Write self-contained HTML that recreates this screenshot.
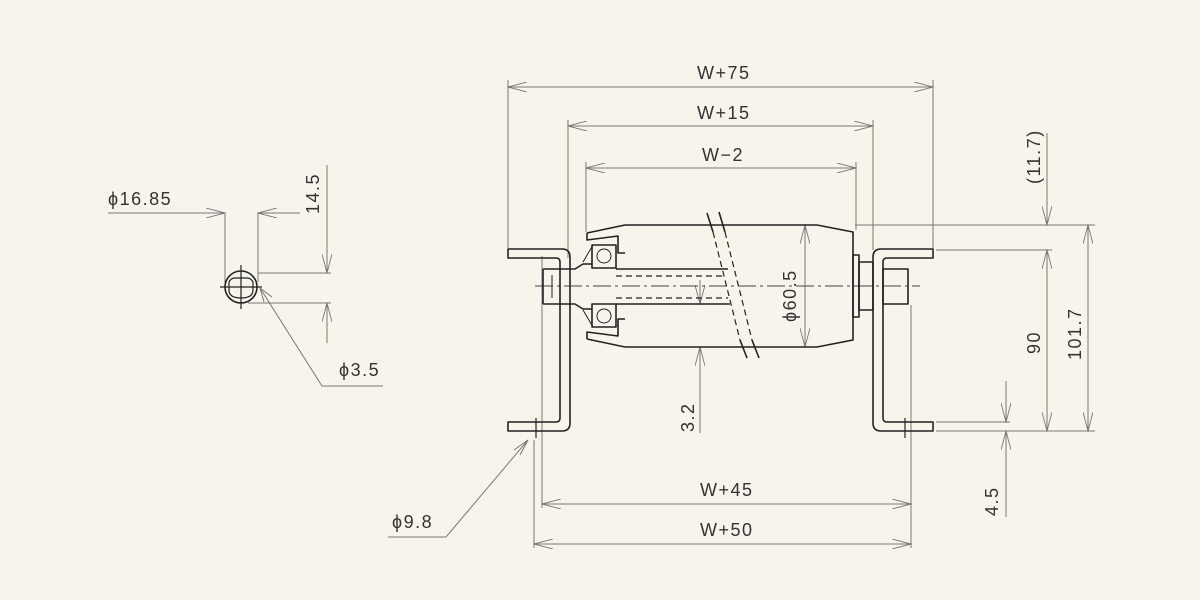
<!DOCTYPE html>
<html><head><meta charset="utf-8"><style>
html,body{margin:0;padding:0;background:#f7f4eb;}
svg{display:block}
text{font-family:"Liberation Sans",sans-serif;font-size:18px;fill:#333;letter-spacing:1.5px;}
</style></head><body>
<svg width="1200" height="600" viewBox="0 0 1200 600" xmlns="http://www.w3.org/2000/svg">
<rect width="1200" height="600" fill="#f7f4eb"/>
<defs>
<marker id="a" markerWidth="20" markerHeight="10" refX="19" refY="5" orient="auto-start-reverse" markerUnits="userSpaceOnUse">
<path d="M0,0 L19,5 L0,10" fill="none" stroke="#777" stroke-width="0.9"/>
</marker>
</defs>
<g stroke="#777" stroke-width="1" fill="none">
<line x1="508" y1="87" x2="933" y2="87" marker-start="url(#a)" marker-end="url(#a)"/>
<line x1="568" y1="126" x2="873" y2="126" marker-start="url(#a)" marker-end="url(#a)"/>
<line x1="586" y1="168" x2="856" y2="168" marker-start="url(#a)" marker-end="url(#a)"/>
<line x1="508" y1="80" x2="508" y2="248"/>
<line x1="933" y1="80" x2="933" y2="248"/>
<line x1="568" y1="120" x2="568" y2="258"/>
<line x1="873" y1="120" x2="873" y2="250"/>
<line x1="586" y1="162" x2="586" y2="232"/>
<line x1="856" y1="162" x2="856" y2="230"/>
<line x1="855" y1="225" x2="1095" y2="225"/>
<line x1="936" y1="250" x2="1052" y2="250"/>
<line x1="936" y1="431" x2="1095" y2="431"/>
<line x1="936" y1="422" x2="1010" y2="422"/>
<line x1="1047" y1="133" x2="1047" y2="225" marker-end="url(#a)"/>
<line x1="1047" y1="250" x2="1047" y2="431" marker-start="url(#a)" marker-end="url(#a)"/>
<line x1="1088" y1="225" x2="1088" y2="431" marker-start="url(#a)" marker-end="url(#a)"/>
<line x1="1006" y1="381" x2="1006" y2="422" marker-end="url(#a)"/>
<line x1="1006" y1="431" x2="1006" y2="517" marker-start="url(#a)"/>
<line x1="542" y1="504" x2="911" y2="504" marker-start="url(#a)" marker-end="url(#a)"/>
<line x1="534" y1="544" x2="911" y2="544" marker-start="url(#a)" marker-end="url(#a)"/>
<line x1="534" y1="440" x2="534" y2="548"/>
<line x1="542" y1="256" x2="542" y2="508"/>
<line x1="911" y1="305" x2="911" y2="548"/>
<polyline points="528,440 446,537 388,537"/>
<line x1="528" y1="440" x2="520" y2="455" /><line x1="528" y1="440" x2="514" y2="450"/>
<line x1="700" y1="280" x2="700" y2="304" marker-end="url(#a)"/>
<line x1="700" y1="347" x2="700" y2="433" marker-start="url(#a)"/>
<line x1="805" y1="225" x2="805" y2="347" marker-start="url(#a)" marker-end="url(#a)"/>
<line x1="108" y1="213" x2="225" y2="213" marker-end="url(#a)"/>
<line x1="258" y1="213" x2="300" y2="213" marker-start="url(#a)"/>
<line x1="225" y1="213" x2="225" y2="290"/>
<line x1="258" y1="213" x2="258" y2="282"/>
<line x1="327" y1="165" x2="327" y2="273" marker-end="url(#a)"/>
<line x1="327" y1="303" x2="327" y2="343" marker-start="url(#a)"/>
<line x1="258" y1="273" x2="331" y2="273"/>
<line x1="248" y1="303" x2="331" y2="303"/>
<polyline points="260,288 322,386 383,386"/>
<line x1="260" y1="288" x2="264" y2="302"/><line x1="260" y1="288" x2="272" y2="297"/>
</g>
<g stroke="#444" stroke-width="1" fill="none" stroke-dasharray="18,4,3,4">
<line x1="535" y1="286" x2="920" y2="286"/>
</g>
<g stroke="#222" stroke-width="1.6" fill="none" stroke-linejoin="round">
<path d="M508,249 H562 Q570,249 570,257 V423 Q570,431 562,431 H508 V422 H556 Q560,422 560,418 V262 Q560,258 556,258 H508 Z"/>
<path d="M933,249 H881 Q873,249 873,257 V423 Q873,431 881,431 H933 V422 H887 Q883,422 883,418 V262 Q883,258 887,258 H933 Z"/>
<path d="M625,225 H817 L853,232 V340 L817,347 H625"/>
<line x1="625" y1="225" x2="587" y2="233"/>
<line x1="625" y1="347" x2="587" y2="339"/>
<path d="M587,233 V240 L618,236 V253 H625"/>
<path d="M587,339 V332 L618,336 V319 H625"/>
<rect x="592" y="245" width="24" height="23"/>
<rect x="592" y="304" width="24" height="23"/>
<circle cx="604" cy="256" r="7" stroke-width="1"/>
<circle cx="604" cy="316" r="7" stroke-width="1"/>
<path d="M583,262 L593,245 M583,310 L593,327" stroke-width="1"/>
<path d="M543,269 H575 L583,264 H592"/>
<path d="M543,304 H575 L583,309 H592"/>
<line x1="543" y1="269" x2="543" y2="304"/>
<path d="M552,275 V298" stroke-width="1"/>
<line x1="616" y1="269" x2="728" y2="269"/>
<line x1="616" y1="304" x2="730" y2="304"/>
<rect x="853" y="255" width="6" height="62"/>
<rect x="859" y="262" width="14" height="48"/>
<rect x="883" y="269" width="25" height="35"/>
<line x1="707" y1="213" x2="713" y2="232"/>
<line x1="719" y1="212" x2="725" y2="232"/>
<line x1="740" y1="340" x2="747" y2="358"/>
<line x1="752" y1="340" x2="759" y2="358"/>
<circle cx="241" cy="287" r="16"/>
<path d="M229,282 Q231,278 235,278 H247 Q251,278 253,282 V290 Q253,298 241,298 Q229,298 229,290 Z" stroke-width="1.2"/>
</g>
<g stroke="#222" stroke-width="1.2" stroke-dasharray="6,4" fill="none">
<line x1="713" y1="232" x2="740" y2="340"/>
<line x1="725" y1="232" x2="752" y2="340"/>
<line x1="616" y1="276" x2="725" y2="276"/>
<line x1="616" y1="298" x2="728" y2="298"/>
</g>
<g stroke="#222" stroke-width="1.2">
<line x1="241" y1="265" x2="241" y2="309"/>
<line x1="220" y1="287" x2="262" y2="287"/>
<line x1="536" y1="418" x2="536" y2="438"/>
<line x1="905" y1="418" x2="905" y2="438"/>
</g>
<text x="697" y="79">W+75</text>
<text x="697" y="119">W+15</text>
<text x="702" y="161">W−2</text>
<text x="700" y="496">W+45</text>
<text x="700" y="536">W+50</text>
<text x="108" y="205">ϕ16.85</text>
<text x="339" y="376">ϕ3.5</text>
<text x="392" y="528">ϕ9.8</text>
<text transform="translate(319,214) rotate(-90)">14.5</text>
<text transform="translate(694,432) rotate(-90)">3.2</text>
<text transform="translate(796,322) rotate(-90)">ϕ60.5</text>
<text transform="translate(1040,184) rotate(-90)">(11.7)</text>
<text transform="translate(1040,354) rotate(-90)">90</text>
<text transform="translate(1081,360) rotate(-90)">101.7</text>
<text transform="translate(998,516) rotate(-90)">4.5</text>
</svg>
</body></html>
